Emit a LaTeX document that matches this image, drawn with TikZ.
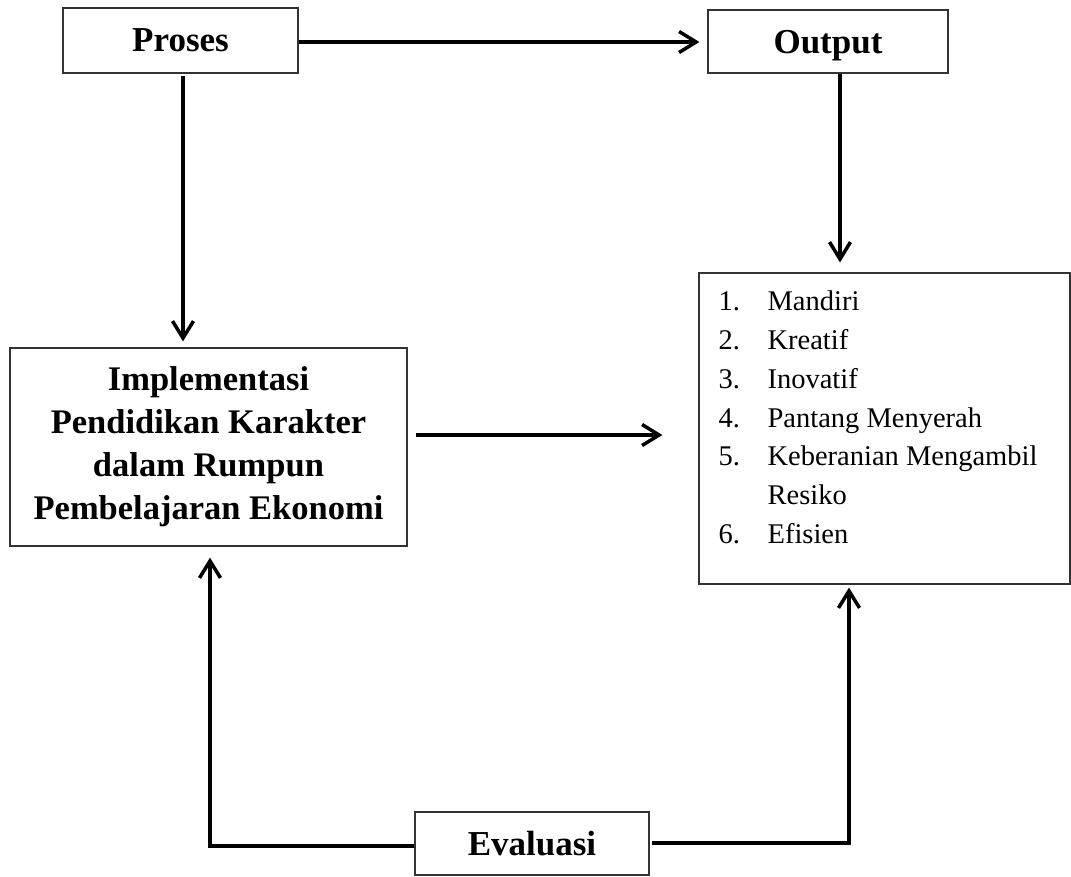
\documentclass[tikz,border=0pt]{standalone}
\usepackage{fontspec}
\setmainfont{Liberation Serif}
\usetikzlibrary{arrows.meta,calc}
\begin{document}
\begin{tikzpicture}[x=1pt,y=-1pt,
  box/.style={draw=black!80, line width=1.2pt, rectangle, inner sep=0pt},
  head/.style={box, font=\fontsize{35}{43}\selectfont\bfseries, text depth=0pt},
  conn/.style={line width=4pt, -{Straight Barb[length=17pt,width=21pt,line width=3.5pt]}}]
\useasboundingbox (0,0) rectangle (1071,876);
\fill[white] (0,0) rectangle (1071,876);

\node[head, minimum width=235pt, minimum height=65pt] (proses) at (180.5,40.5) {Proses};
\node[head, minimum width=240pt, minimum height=63pt] (output) at (828,41.5) {Output};
\node[box, minimum width=397pt, minimum height=198pt, align=center,
      font=\fontsize{34.5}{43}\selectfont\bfseries] (impl) at (208.5,447)
  {Implementasi\\Pendidikan Karakter\\dalam Rumpun\\Pembelajaran Ekonomi};
\node[box, minimum width=371pt, minimum height=311pt] (list) at (884.5,428.5) {};
\node[anchor=north west, inner sep=0pt, font=\fontsize{28.5}{38.8}\selectfont] (items)
  at ($(list.north west)+(20,11)$)
  {\begin{tabular}{@{}p{49pt}@{}l@{}}
   1. & Mandiri\\
   2. & Kreatif\\
   3. & Inovatif\\
   4. & Pantang Menyerah\\
   5. & Keberanian Mengambil\\
      & Resiko\\
   6. & Efisien
   \end{tabular}};
\node[head, minimum width=234pt, minimum height=63pt] (eval) at (532,843.5) {Evaluasi};

\draw[conn] ($(proses.east)+(0,1.5)$) -- ($(output.west)+(-8,0.5)$);
\draw[conn] ($(proses.south)+(2.5,2)$) -- ($(impl.north)+(-25.5,-6)$);
\draw[conn] ($(output.south)+(12,0)$) -- ($(list.north)+(-44.5,-10)$);
\draw[conn] ($(impl.east)+(8,-12)$) -- ($(list.west)+(-36,6.5)$);
\draw[conn] ($(eval.west)+(0,2.5)$) -| ($(impl.south)+(1.5,11)$);
\draw[conn] ($(eval.east)+(2,-0.5)$) -| ($(list.south)+(-35.5,3)$);
\end{tikzpicture}
\end{document}
